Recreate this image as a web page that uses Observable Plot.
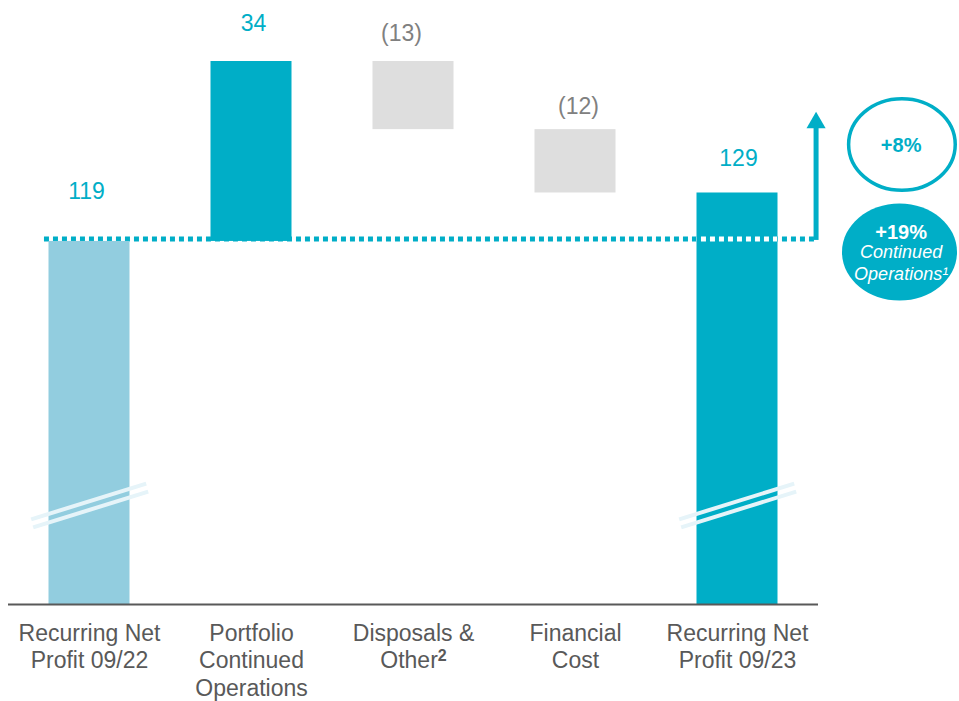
<!DOCTYPE html>
<html>
<head>
<meta charset="utf-8">
<script src="https://cdn.jsdelivr.net/npm/d3@7"></script>
<script src="https://cdn.jsdelivr.net/npm/@observablehq/plot@0.6"></script>
<style>
  html, body { margin: 0; padding: 0; background: #fff; overflow: hidden; }
  #chart svg { display: block; }
</style>
</head>
<body>
<div id="chart"></div>
<script>
// ---- data ----
const categories = [
  "Recurring Net\nProfit 09/22",
  "Portfolio\nContinued\nOperations",
  "Disposals &\nOther²",
  "Financial\nCost",
  "Recurring Net\nProfit 09/23"
];
const values = [119.4, 33.8, -12.8, -11.9, 128.5];
const valueLabels = ["119", "34", "(13)", "(12)", "129"];
const kinds = ["total", "delta", "delta", "delta", "total"];
const axisFloor = 51.2;       // broken axis: bars start here
const axisTop = 153.2;
const growthLabel = "+8%";
const continuedLabel = "+19%";
const continuedSub = "Continued\nOperations¹";

// ---- colours ----
const TEAL = "#00AEC7";
const LIGHT = "#92CDDF";
const GREY = "#DEDEDE";
const GREY_TEXT = "#808080";
const AXIS = "#595959";
const BREAK = "#E6F4F9";

// ---- waterfall table ----
let run = 0;
const bars = categories.map((c, i) => {
  let a, b;
  if (kinds[i] === "total") { a = axisFloor; b = values[i]; run = values[i]; }
  else { a = run; b = run + values[i]; run = b; }
  return {
    i, c, v: values[i], kind: kinds[i],
    y1: Math.min(a, b), y2: Math.max(a, b), top: Math.max(a, b),
    label: valueLabels[i]
  };
});
const barFill = d => d.i === 0 ? LIGHT : (d.kind === "total" || d.v > 0 ? TEAL : GREY);
const labelFill = d => (d.kind === "total" || d.v > 0) ? TEAL : GREY_TEXT;
const totals = bars.filter(d => d.kind === "total");
const last = bars[bars.length - 1];
const refLevel = values[0];

function ellipseSymbol(ratio) {
  return {
    draw(ctx, size) {
      const ry = Math.sqrt(size / Math.PI), rx = ry * ratio, k = 0.5523;
      ctx.moveTo(rx, 0);
      ctx.bezierCurveTo(rx, ry * k, rx * k, ry, 0, ry);
      ctx.bezierCurveTo(-rx * k, ry, -rx, ry * k, -rx, 0);
      ctx.bezierCurveTo(-rx, -ry * k, -rx * k, -ry, 0, -ry);
      ctx.bezierCurveTo(rx * k, -ry, rx, -ry * k, rx, 0);
      ctx.closePath();
    }
  };
}

const labelOffsets = [[-3, -50], [2, -38], [-12, -28], [3, -23], [1, -34]];
const valueTextMarks = bars.map((d, j) =>
  Plot.text([d], {
    x: "i", y: "top", text: "label",
    dx: labelOffsets[j][0], dy: labelOffsets[j][1],
    fill: labelFill, fontSize: 23
  })
);

const arrowX = 4.485;
const annX = 5.01;

const chart = Plot.plot({
  width: 959,
  height: 701,
  marginLeft: 8,
  marginRight: 141,
  marginTop: 61,
  marginBottom: 97,
  x: { type: "linear", domain: [-0.5, 4.5], axis: null },
  y: { domain: [axisFloor, axisTop], axis: null },
  style: { fontFamily: "'Liberation Sans', Arial, Helvetica, sans-serif", background: "#fff", overflow: "visible" },
  marks: [
    // reference dotted line at the starting level
    Plot.ruleY([refLevel], { x1: -0.278, x2: arrowX, dy: -2.5, stroke: TEAL, strokeWidth: 5, strokeDasharray: "5,4" }),
    // bars
    Plot.rect(bars, { x1: d => d.i - 0.25, x2: d => d.i + 0.25, y1: "y1", y2: "y2", fill: barFill }),
    // white dots over the last bar (same dash phase)
    Plot.ruleY([refLevel], { x1: -0.278, x2: last.i + 0.25, dy: -2.5, stroke: "#fff", strokeWidth: 5, strokeDasharray: "5,4",
      render(index, scales, values, dims, context, next) {
        const g = next(index, scales, values, dims, context);
        const clipX1 = scales.x(last.i - 0.25);
        const id = "clipLast";
        const svgNS = "http://www.w3.org/2000/svg";
        const defs = document.createElementNS(svgNS, "defs");
        const cp = document.createElementNS(svgNS, "clipPath");
        cp.setAttribute("id", id);
        const r = document.createElementNS(svgNS, "rect");
        r.setAttribute("x", clipX1); r.setAttribute("y", 0);
        r.setAttribute("width", scales.x(last.i + 0.25) - clipX1); r.setAttribute("height", dims.height);
        cp.appendChild(r); defs.appendChild(cp); g.insertBefore(defs, g.firstChild);
        g.setAttribute("clip-path", `url(#${id})`);
        return g;
      }
    }),
    // axis break marks on the total bars
    Plot.link(totals, { x1: d => d.i - 0.36, x2: d => d.i + 0.35, y1: () => 67.2, y2: () => 73.9, stroke: BREAK, strokeWidth: 4 }),
    Plot.link(totals, { x1: d => d.i - 0.36, x2: d => d.i + 0.35, y1: () => 67.2, y2: () => 73.9, dx: 2, dy: 8, stroke: BREAK, strokeWidth: 4 }),
    // baseline
    Plot.ruleY([axisFloor], { stroke: AXIS, strokeWidth: 2 }),
    // growth arrow
    Plot.ruleX([arrowX], { y1: refLevel, y2: 140.5, dy: -1, stroke: TEAL, strokeWidth: 5 }),
    Plot.dot([arrowX], { x: d => d, y: () => 141.7, symbol: "triangle", r: 7.1, fill: TEAL, stroke: "none" }),
    // value labels
    ...valueTextMarks,
    // category labels
    Plot.text(bars, { x: "i", y: () => axisFloor, text: "c", lineAnchor: "top", dy: 17, fontSize: 23, lineHeight: 1.19, fill: AXIS }),
    // annotation bubbles
    Plot.dot([growthLabel], { x: () => annX + 0.005, y: () => 137.6, r: 45.8, symbol: ellipseSymbol(1.164), fill: "none", stroke: TEAL, strokeWidth: 3.5 }),
    Plot.text([growthLabel], { x: () => annX, y: () => 137.6, dy: 1, text: d => d, fill: TEAL, fontSize: 20, fontWeight: "bold" }),
    Plot.dot([continuedLabel], { x: () => annX - 0.01, y: () => 117.4, r: 48.5, symbol: ellipseSymbol(1.186), fill: TEAL, stroke: "none" }),
    Plot.text([continuedLabel], { x: () => annX, y: () => 117.4, dy: -19.5, text: d => d, fill: "#fff", fontSize: 20, fontWeight: "bold" }),
    Plot.text([continuedSub], { x: () => annX, y: () => 117.4, dy: 10, text: d => d, fill: "#fff", fontSize: 18, fontStyle: "italic", lineHeight: 1.19 })
  ]
});

// superscript "2" in bold
chart.querySelectorAll("tspan, text").forEach(el => {
  if (el.childElementCount === 0 && el.textContent === "Other²") {
    el.textContent = "Other";
    const s = document.createElementNS("http://www.w3.org/2000/svg", "tspan");
    s.textContent = "2";
    s.setAttribute("font-weight", "bold");
    s.setAttribute("font-size", "16");
    s.setAttribute("dy", "-7");
    el.appendChild(s);
  }
});

document.getElementById("chart").appendChild(chart);
</script>
</body>
</html>
